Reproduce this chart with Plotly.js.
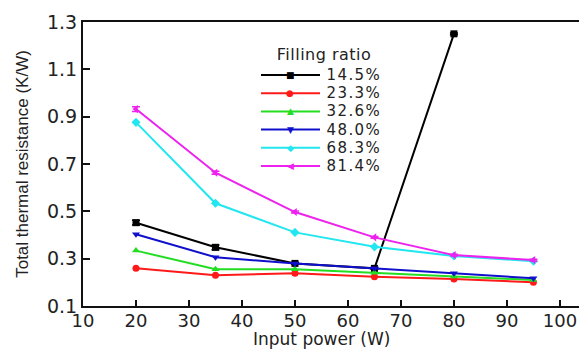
<!DOCTYPE html>
<html>
<head>
<meta charset="utf-8">
<script src="https://cdn.plot.ly/plotly-3.0.1.min.js"></script>
<style>html,body{margin:0;padding:0;background:#fff;}#chart{width:579px;height:349px;}</style>
</head>
<body>
<div id="chart"></div>
<script>
// ---- data ----
const inputPower = [20, 35, 50, 65, 80, 95];
const r145 = [0.452, 0.348, 0.280, 0.259, 1.250];
const r233 = [0.259, 0.230, 0.238, 0.224, 0.214, 0.200];
const r326 = [0.334, 0.255, 0.255, 0.240, 0.225, 0.210];
const r480 = [0.403, 0.306, 0.280, 0.260, 0.238, 0.217];
const r683 = [0.876, 0.534, 0.411, 0.350, 0.311, 0.289];
const r814 = [0.932, 0.663, 0.497, 0.390, 0.315, 0.294];
const err145 = [0.010, 0.010, 0.004, 0.004, 0.004];
const err814 = [0.010, 0.006, 0.004, 0.004, 0.004, 0.004];
const seriesNames = ['14.5%', '23.3%', '32.6%', '48.0%', '68.3%', '81.4%'];
const legendTitle = 'Filling ratio';
const xTitle = 'Input power (W)';
const yTitle = 'Total thermal resistance (K/W)';
const xTicks = [10, 20, 30, 40, 50, 60, 70, 80, 90, 100];
const yTicks = [0.1, 0.3, 0.5, 0.7, 0.9, 1.1, 1.3];

// ---- styles ----
const colors = ['#000000', '#ff1a1a', '#22dd22', '#1010cc', '#22e6f0', '#ee22ee'];
const symbols = ['square', 'circle', 'triangle-up', 'triangle-down', 'diamond', 'triangle-left'];
const glyphs = ['\u25A0', '\u25CF', '\u25B2', '\u25BC', '\u25C6', '\u25C0'];
const values = [r145, r233, r326, r480, r683, r814];
const errs = [err145, null, null, null, null, err814];

const traces = values.map((v, i) => {
  const t = {
    x: inputPower.slice(0, v.length),
    y: v,
    name: seriesNames[i],
    type: 'scatter',
    mode: 'lines+markers',
    line: {color: colors[i], width: 2},
    marker: {color: colors[i], symbol: symbols[i], size: 7},
    showlegend: false
  };
  if (errs[i]) {
    t.error_y = {type: 'data', array: errs[i], visible: true, color: colors[i], thickness: 1.5, width: 4};
  }
  return t;
});

// ---- manual legend (paper coordinates) ----
const L = 83, W = 496, H = 284, B = 306;
const px = x => (x - L) / W;
const py = y => (B - y) / H;
const shapes = [];
const annotations = [{
  x: px(279), y: py(55), xref: 'paper', yref: 'paper', xanchor: 'left', yanchor: 'middle',
  text: legendTitle, showarrow: false, borderpad: 0,
  font: {family: 'DejaVu Sans', size: 16, color: '#222'}
}];
seriesNames.forEach((n, i) => {
  const yy = 75 + 18.2 * i;
  shapes.push({type: 'line', xref: 'paper', yref: 'paper', x0: px(261), x1: px(320), y0: py(yy), y1: py(yy),
    line: {color: colors[i], width: 2}});
  annotations.push({x: px(290), y: py(yy), xref: 'paper', yref: 'paper', xanchor: 'center', yanchor: 'middle',
    text: glyphs[i], showarrow: false, borderpad: 0, font: {family: 'DejaVu Sans', size: 9, color: colors[i]}});
  annotations.push({x: px(329), y: py(yy), xref: 'paper', yref: 'paper', xanchor: 'left', yanchor: 'middle',
    text: n, showarrow: false, borderpad: 0,
    font: {family: 'DejaVu Sans', size: 15, color: '#222'}});
});
// x-axis title placed as annotation just under the tick labels
annotations.push({x: px(321), y: py(339), xref: 'paper', yref: 'paper', xanchor: 'center', yanchor: 'middle',
  text: xTitle, showarrow: false, font: {family: 'DejaVu Sans', size: 17, color: '#222'}});

const layout = {
  width: 579, height: 349,
  margin: {l: 83, r: 0, t: 22, b: 43},
  paper_bgcolor: '#fff', plot_bgcolor: '#fff',
  showlegend: false,
  font: {family: 'DejaVu Sans', color: '#222'},
  xaxis: {
    range: [10, 103.6], tickvals: xTicks, ticktext: xTicks.map(String),
    ticks: 'inside', ticklen: 6, tickwidth: 2, tickcolor: '#111',
    showline: true, linecolor: '#111', linewidth: 2, mirror: true,
    showgrid: false, zeroline: false, ticklabelstandoff: -3,
    tickfont: {family: 'DejaVu Sans', size: 18, color: '#222'}
  },
  yaxis: {
    range: [0.1, 1.3], tickvals: yTicks, ticktext: yTicks.map(v => v.toFixed(1)),
    ticks: 'inside', ticklen: 7, tickwidth: 2, tickcolor: '#111',
    showline: true, linecolor: '#111', linewidth: 2,
    showgrid: false, zeroline: false,
    tickfont: {family: 'DejaVu Sans', size: 19, color: '#222'},
    title: {text: yTitle, font: {family: 'Liberation Sans', size: 17, color: '#222'}, standoff: 14}
  },
  shapes: shapes,
  annotations: annotations
};

Plotly.newPlot('chart', traces, layout, {displayModeBar: false, staticPlot: true}).then(gd => {
  // widen legend labels slightly to match the reference's wide lettering
  gd.querySelectorAll('text.annotation-text').forEach(t => {
    if (seriesNames.indexOf(t.textContent) >= 0) t.style.letterSpacing = '1.4px';
    if (t.textContent === legendTitle) t.style.letterSpacing = '0.5px';
  });
});
</script>
</body>
</html>
